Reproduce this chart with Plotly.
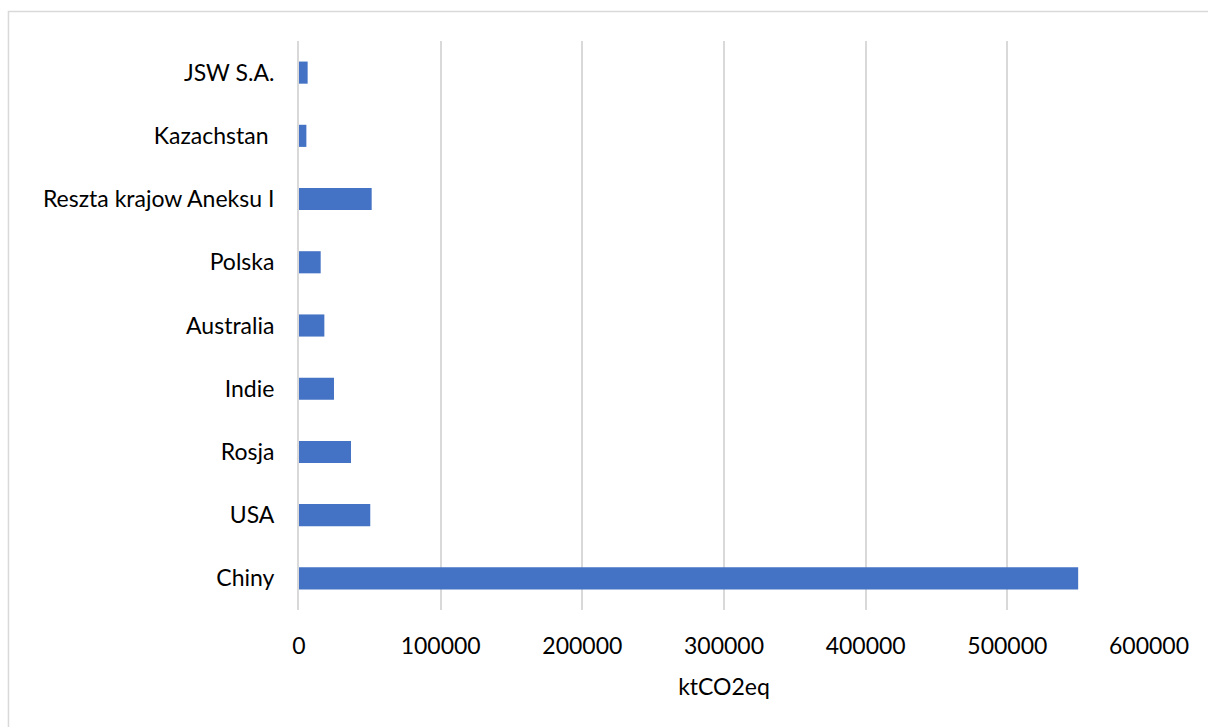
import plotly.graph_objects as go

# Emissions by source, bottom to top
categories = ["Chiny", "USA", "Rosja", "Indie", "Australia", "Polska",
              "Reszta krajow Aneksu I", "Kazachstan ", "JSW S.A."]
values = [550000, 50300, 36700, 24700, 17900, 15300, 51300, 5200, 6100]

x_ticks = [0, 100000, 200000, 300000, 400000, 500000, 600000]
x_title = "ktCO2eq"

FONT = "Lato, Calibri, sans-serif"
FSIZE = 23
GRID = "#d9d9d9"

fig = go.Figure(
    go.Bar(
        x=values,
        y=categories,
        orientation="h",
        marker=dict(color="#4472c4", line=dict(width=0)),
        hoverinfo="x+y",
    )
)

fig.update_layout(
    width=1208,
    height=727,
    margin=dict(l=299, r=59, t=41, b=117),
    paper_bgcolor="white",
    plot_bgcolor="white",
    bargap=0.65,
    showlegend=False,
    font=dict(family=FONT, size=FSIZE, color="#000000"),
    xaxis=dict(
        range=[0, 600000],
        tickvals=x_ticks,
        ticktext=[str(v) for v in x_ticks],
        showgrid=True,
        gridcolor=GRID,
        gridwidth=1.5,
        zeroline=False,
        showline=False,
        ticks="",
        ticklabelstandoff=20,
        title=dict(text=x_title, standoff=20, font=dict(family=FONT, size=FSIZE)),
        tickfont=dict(family=FONT, size=FSIZE),
        fixedrange=True,
    ),
    yaxis=dict(
        categoryorder="array",
        categoryarray=categories,
        showgrid=False,
        zeroline=False,
        showline=True,
        linecolor=GRID,
        linewidth=2,
        ticks="",
        ticklabelstandoff=18,
        tickfont=dict(family=FONT, size=FSIZE),
        fixedrange=True,
    ),
    shapes=[
        # chart-area frame
        dict(
            type="rect",
            xref="paper",
            yref="paper",
            x0=-0.3418,
            x1=1.2,
            y0=-0.35,
            y1=1.0518,
            line=dict(color=GRID, width=1.5),
            fillcolor="rgba(0,0,0,0)",
            layer="below",
        )
    ],
)

fig.write_html("out.html")
